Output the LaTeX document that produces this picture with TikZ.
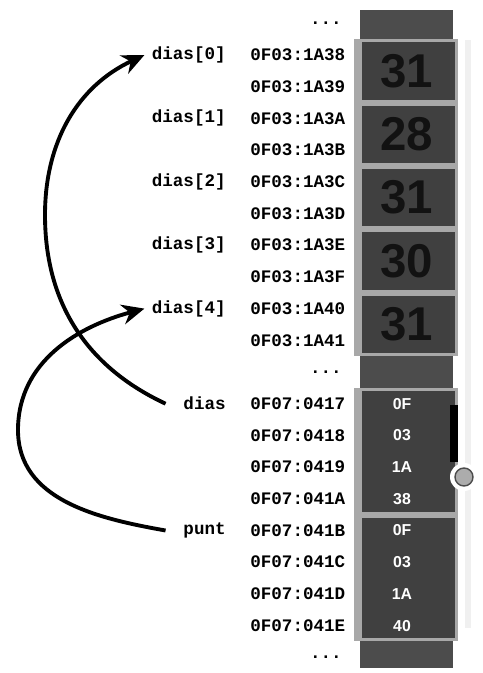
\documentclass[tikz,border=0pt]{standalone}
\usepackage{fontspec}
\setmonofont{Liberation Mono}
\setsansfont{Liberation Sans}
\usetikzlibrary{arrows.meta}
\definecolor{memdark}{HTML}{4C4C4C}
\definecolor{meminner}{HTML}{404040}
\definecolor{memframe}{HTML}{A8A8A8}
\definecolor{memink}{HTML}{121212}

\begin{document}
\begin{tikzpicture}[x=0.02cm,y=0.02cm,
    addr/.style={anchor=west,inner sep=0pt,font=\ttfamily\bfseries\fontsize{10}{12}\selectfont},
    lbl/.style={anchor=east,inner sep=0pt,font=\ttfamily\bfseries\fontsize{10}{12}\selectfont},
    gap/.style={anchor=east,inner sep=0pt,font=\ttfamily\bfseries\fontsize{10}{12}\selectfont},
    val/.style={font=\sffamily\bfseries\fontsize{27}{27}\selectfont,text=memink},
    byte/.style={font=\sffamily\bfseries\fontsize{9}{10}\selectfont,text=white},
    ptr/.style={line width=2.2pt,-{Stealth[length=4.5mm,width=4mm]}}]
    \useasboundingbox (0,0) rectangle (483,673);
    \draw[gray!12,line width=3pt] (468,45)--(468,633);
    \fill[memdark] (360,5) rectangle (453,663);
    % int cells
    \foreach \k/\v in {0/31,1/28,2/31,3/30,4/31} {
        \pgfmathsetmacro\btop{618-63.4*\k+15.85}
        \pgfmathsetmacro\bbot{\btop-63.4}
        \fill[memframe] (354,\bbot) rectangle (458,\btop);
        \fill[meminner] (362,{\bbot+3}) rectangle (455,{\btop-3});
        \node[val] (v\k) at (407,{(\btop+\bbot)/2}) {\v};
    }
    % pointer cells
    \foreach \k in {0,1} {
        \pgfmathsetmacro\btop{285.15-126.8*\k}
        \pgfmathsetmacro\bbot{\btop-126.8}
        \fill[memframe] (354,\bbot) rectangle (458,\btop);
        \fill[meminner] (362,{\bbot+3}) rectangle (455,{\btop-3});
    }
    \foreach \b [count=\r from 11] in {0F,03,1A,38,0F,03,1A,40}
        \node[byte] (b\r) at (402,{618-31.7*\r}) {\b};
    \fill[black] (450,211) rectangle (458,268);
    \fill[white] (464,196) circle (14);
    \filldraw[fill=gray!65,draw=black!70,line width=0.8pt] (464,196) circle (9);
    % addresses
    \foreach \a [count=\r from 0] in {1A38,1A39,1A3A,1A3B,1A3C,1A3D,1A3E,1A3F,1A40,1A41}
        \node[addr] (a\r) at (250,{618-31.7*\r}) {0F03:\a};
    \foreach \a [count=\r from 11] in {0417,0418,0419,041A,041B,041C,041D,041E}
        \node[addr] (a\r) at (250,{618-31.7*\r}) {0F07:\a};
    \foreach \r in {-1,10,19}
        \node[gap] (d\r) at (342,{618-31.7*\r}) {...};
    % names
    \foreach \i in {0,...,4}
        \node[lbl] (dias\i) at (226,{618-63.4*\i}) {dias[\i]};
    \node[lbl] (dias) at (226,{618-31.7*11}) {dias};
    \node[lbl] (punt) at (226,{618-31.7*15}) {punt};
    \coordinate (loopA) at (45,458);
    \coordinate (loopB) at (18,243);
    \draw[ptr] ([xshift=-10pt]dias.west) to[out=155,in=270] (loopA)
        to[out=90,in=205] ([xshift=-4pt]dias0.west);
    \draw[ptr] ([xshift=-10pt]punt.west) to[out=170,in=270] (loopB)
        to[out=90,in=195] ([xshift=-4pt]dias4.west);
\end{tikzpicture}
\end{document}
